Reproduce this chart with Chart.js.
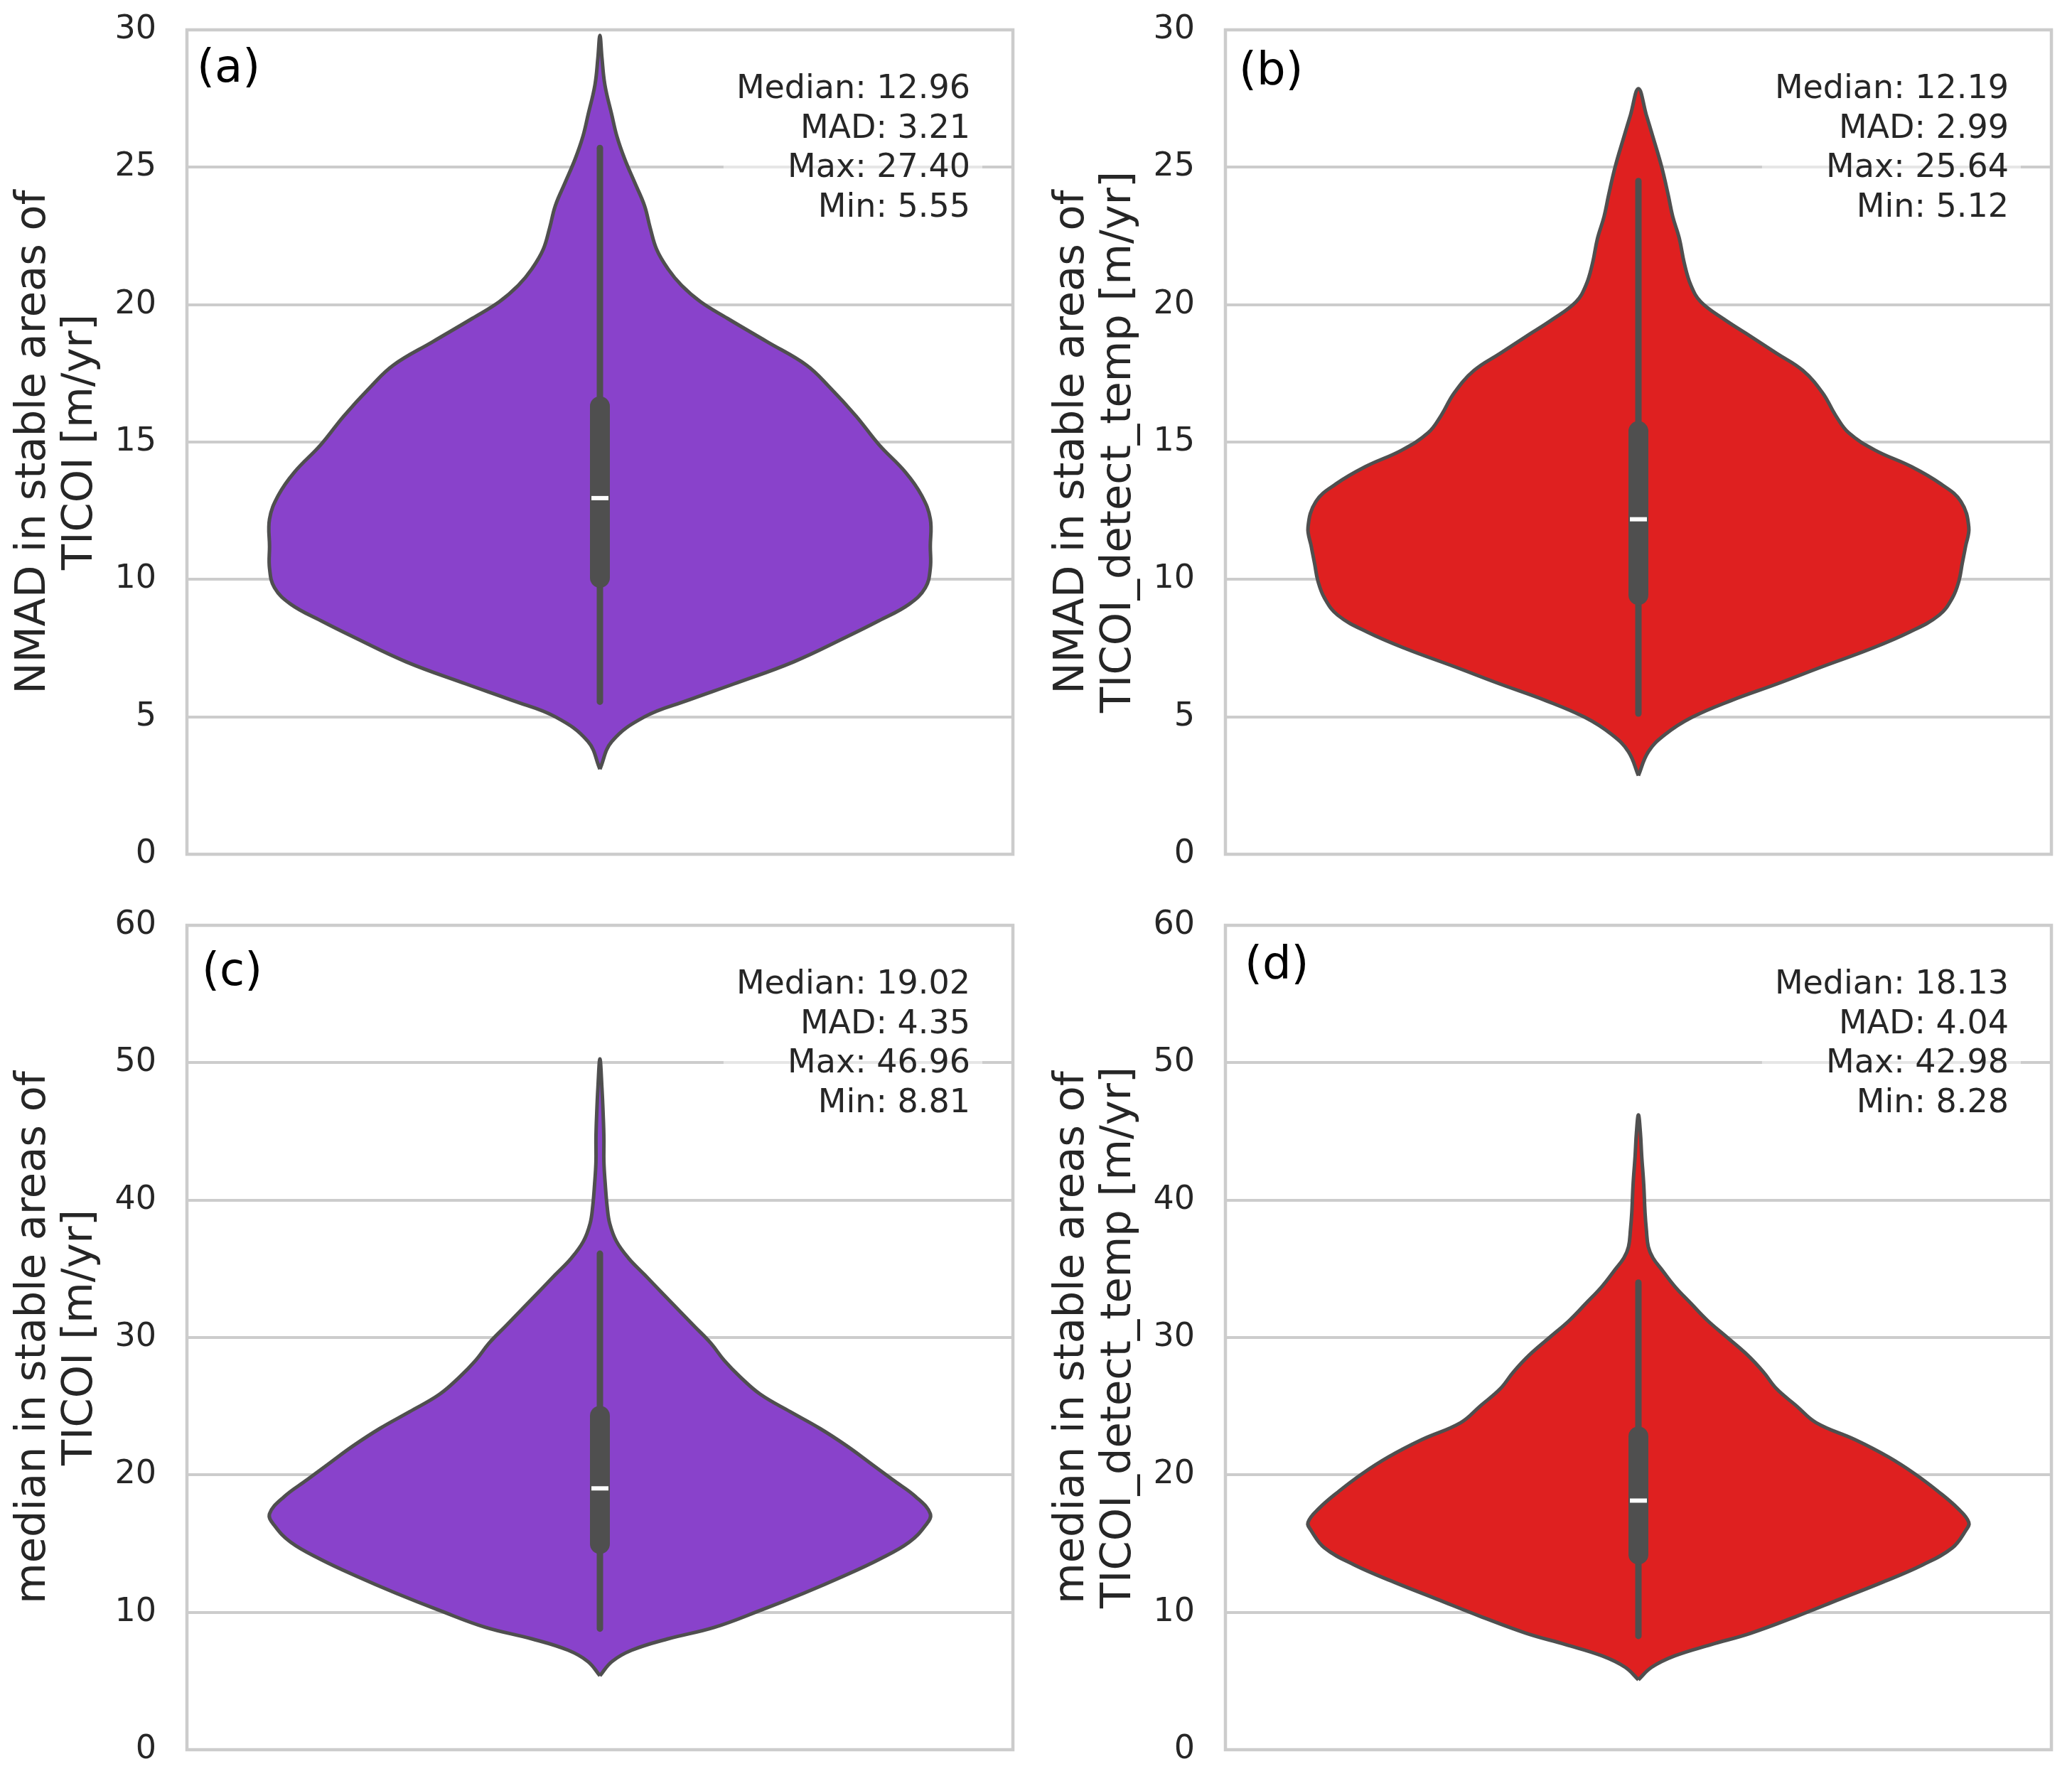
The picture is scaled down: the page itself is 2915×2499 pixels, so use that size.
<!DOCTYPE html>
<html>
<head>
<meta charset="utf-8">
<script src="https://cdn.jsdelivr.net/npm/chart.js@4.4.1/dist/chart.umd.min.js"></script>
<style>
  body { margin: 0; background: #fff; width: 2915px; height: 2499px; position: relative; overflow: hidden; }
  canvas { position: absolute; }
</style>
</head>
<body>
<canvas id="chartA" width="1454" height="1240" style="left:0px;top:0px"></canvas>
<canvas id="chartB" width="1454" height="1240" style="left:1461px;top:0px"></canvas>
<canvas id="chartC" width="1454" height="1240" style="left:0px;top:1260px"></canvas>
<canvas id="chartD" width="1454" height="1240" style="left:1461px;top:1260px"></canvas>
<script>
// violin outlines: value on the y axis and relative density (1 = widest)
const valsA = [3.1, 4.1, 5.0, 5.6, 6.2, 7.0, 7.9, 8.5, 9.1, 9.7, 10.4, 11.2, 12.2, 13.05, 13.9, 14.9, 15.95, 17.0, 17.8, 18.65, 19.5, 20.1, 20.7, 21.3, 22.0, 22.8, 23.6, 24.45, 25.3, 26.1, 26.9, 28.0, 29.0, 29.8];
const densA = [0, 0.036, 0.135, 0.266, 0.406, 0.586, 0.745, 0.845, 0.936, 0.985, 1.0, 1.0, 1.0, 0.974, 0.925, 0.845, 0.775, 0.695, 0.625, 0.506, 0.386, 0.305, 0.247, 0.206, 0.172, 0.152, 0.135, 0.105, 0.075, 0.052, 0.036, 0.015, 0.006, 0];

const valsB = [2.86, 3.73, 4.35, 4.97, 5.59, 6.2, 6.84, 7.46, 8.08, 8.7, 9.32, 9.94, 10.57, 11.19, 11.9, 12.84, 13.47, 14.1, 14.7, 15.33, 15.95, 16.78, 17.6, 18.23, 18.85, 19.47, 20.1, 20.7, 21.5, 22.4, 23.2, 24.0, 25.03, 26.1, 26.9, 27.86];
const densB = [0, 0.03, 0.08, 0.16, 0.28, 0.42, 0.56, 0.70, 0.82, 0.91, 0.95, 0.97, 0.98, 0.99, 1.0, 0.976, 0.916, 0.827, 0.717, 0.637, 0.598, 0.558, 0.498, 0.418, 0.339, 0.259, 0.189, 0.159, 0.139, 0.124, 0.104, 0.09, 0.07, 0.044, 0.024, 0];

const valsC = [5.38, 6.41, 7.24, 8.07, 8.9, 10.14, 11.38, 12.62, 13.86, 15.1, 16.34, 17.17, 18.41, 19.65, 20.9, 22.13, 23.38, 24.6, 25.86, 27.1, 28.34, 29.58, 30.82, 32.06, 33.3, 34.55, 35.79, 37.0, 38.27, 39.5, 41.2, 42.8, 44.5, 46.1, 48.2, 50.27];
const densC = [0, 0.036, 0.096, 0.206, 0.346, 0.486, 0.616, 0.736, 0.846, 0.936, 0.986, 1.0, 0.956, 0.886, 0.816, 0.746, 0.666, 0.576, 0.486, 0.426, 0.376, 0.336, 0.286, 0.236, 0.186, 0.136, 0.086, 0.05, 0.03, 0.022, 0.016, 0.012, 0.012, 0.010, 0.006, 0];

const valsD = [5.09, 6.0, 6.83, 7.65, 8.48, 9.72, 10.96, 12.2, 13.45, 14.69, 15.93, 16.55, 17.58, 18.82, 20.07, 21.3, 22.55, 23.8, 25.03, 26.27, 27.5, 28.75, 30.0, 31.24, 32.48, 33.72, 34.96, 35.79, 36.6, 37.86, 39.1, 41.17, 43.2, 44.9, 46.2];
const densD = [0, 0.04, 0.11, 0.22, 0.34, 0.48, 0.61, 0.74, 0.86, 0.95, 0.99, 1.0, 0.966, 0.906, 0.837, 0.757, 0.657, 0.538, 0.478, 0.418, 0.378, 0.329, 0.269, 0.209, 0.159, 0.11, 0.07, 0.044, 0.03, 0.024, 0.02, 0.016, 0.01, 0.006, 0];

// inner box: [whisker low, q1, median, q3, whisker high]
const boxA = [5.55, 10.06, 12.96, 16.3, 25.7];
const boxB = [5.12, 9.43, 12.19, 15.4, 24.5];
const boxC = [8.81, 14.97, 19.02, 24.3, 36.1];
const boxD = [8.28, 14.2, 18.13, 22.8, 34.0];

// printed statistics: median, MAD, max, min
const statsA = [12.96, 3.21, 27.40, 5.55];
const statsB = [12.19, 2.99, 25.64, 5.12];
const statsC = [19.02, 4.35, 46.96, 8.81];
const statsD = [18.13, 4.04, 42.98, 8.28];
const statNames = ['Median', 'MAD', 'Max', 'Min'];

const titleA = ['NMAD in stable areas of', 'TICOI [m/yr]'];
const titleB = ['NMAD in stable areas of', 'TICOI_detect_temp [m/yr]'];
const titleC = ['median in stable areas of', 'TICOI [m/yr]'];
const titleD = ['median in stable areas of', 'TICOI_detect_temp [m/yr]'];

const FONT = 'DejaVu Sans';
const halfWidth = 0.4;  // seaborn default width 0.8

function violinPoints(vals, dens) {
    const right = vals.map((v, i) => ({ x: dens[i] * halfWidth, y: v }));
    const left = vals.map((v, i) => ({ x: -dens[i] * halfWidth, y: v })).reverse();
    return right.concat(left.slice(1));
}

// spines, panel letter and the stats box
const panelDecor = {
    id: 'panelDecor',
    afterDraw(chart, args, opts) {
        const { ctx, chartArea: a } = chart;
        ctx.save();
        ctx.strokeStyle = '#cccccc';
        ctx.lineWidth = 4.5;
        ctx.strokeRect(a.left, a.top, a.right - a.left, a.bottom - a.top);

        ctx.font = `64px "${FONT}"`;
        ctx.fillStyle = '#000000';
        ctx.textAlign = 'left';
        ctx.textBaseline = 'alphabetic';
        ctx.fillText(opts.letter, a.left + opts.letterDx, a.top + opts.letterDy);

        const lines = opts.stats.map((v, i) => `${statNames[i]}: ${v.toFixed(2)}`);
        ctx.font = `46px "${FONT}"`;
        const maxW = Math.max(...lines.map(l => ctx.measureText(l).width));
        const xr = a.right - 60;
        const y0 = a.top + 96;
        const step = 55.5;
        ctx.fillStyle = 'rgba(255,255,255,0.5)';
        ctx.fillRect(xr - maxW - 18, y0 - 52, maxW + 35, step * 3 + 52 + 28);
        ctx.fillStyle = '#262626';
        ctx.textAlign = 'right';
        lines.forEach((l, i) => ctx.fillText(l, xr, y0 + i * step));
        ctx.restore();
    }
};

function makeViolin(id, vals, dens, box, stats, title, color, yMax, yStep, letter, letterDx, letterDy) {
    const ctx = document.getElementById(id).getContext('2d');
    // datasets are painted last-to-first, so the violin goes at the end (bottom layer)
    return new Chart(ctx, {
        type: 'scatter',
        data: {
            datasets: [
                {
                    data: [{ x: -0.0103, y: box[2] }, { x: 0.0103, y: box[2] }],
                    showLine: true,
                    borderColor: '#ffffff',
                    borderWidth: 6,
                    borderCapStyle: 'butt',
                    pointRadius: 0
                },
                {
                    data: [{ x: 0, y: box[1] }, { x: 0, y: box[3] }],
                    showLine: true,
                    borderColor: '#4f4f4f',
                    borderWidth: 28,
                    borderCapStyle: 'round',
                    pointRadius: 0
                },
                {
                    data: [{ x: 0, y: box[0] }, { x: 0, y: box[4] }],
                    showLine: true,
                    borderColor: '#4f4f4f',
                    borderWidth: 9,
                    borderCapStyle: 'round',
                    pointRadius: 0
                },
                {
                    data: violinPoints(vals, dens),
                    showLine: true,
                    fill: 'shape',
                    backgroundColor: color,
                    borderColor: '#4f4f4f',
                    borderWidth: 5,
                    borderJoinStyle: 'round',
                    tension: 0.4,
                    pointRadius: 0
                }
            ]
        },
        options: {
            responsive: false,
            devicePixelRatio: 1,
            animation: false,
            events: [],
            layout: { padding: { top: 42, right: 29, bottom: 38, left: 0 } },
            plugins: {
                legend: { display: false },
                tooltip: { enabled: false },
                panelDecor: { letter, letterDx, letterDy, stats }
            },
            scales: {
                x: { type: 'linear', min: -0.5, max: 0.5, display: false },
                y: {
                    min: 0,
                    max: yMax,
                    afterFit: scale => {
                        scale.width = 263;
                        scale.paddingTop = 0;
                        scale.paddingBottom = 0;
                    },
                    ticks: { stepSize: yStep, padding: 43, color: '#262626', font: { family: FONT, size: 46 } },
                    grid: { color: '#cccccc', lineWidth: 4, drawTicks: false },
                    border: { display: false },
                    title: {
                        display: true,
                        text: title,
                        color: '#262626',
                        font: { family: FONT, size: 59, lineHeight: 1.12 },
                        padding: { top: 14.5, bottom: 0 }
                    }
                }
            }
        },
        plugins: [panelDecor]
    });
}

makeViolin('chartA', valsA, densA, boxA, statsA, titleA, '#8942CB', 30, 5, '(a)', 14, 73);
makeViolin('chartB', valsB, densB, boxB, statsB, titleB, '#DF2020', 30, 5, '(b)', 19, 77);
makeViolin('chartC', valsC, densC, boxC, statsC, titleC, '#8942CB', 60, 10, '(c)', 21, 84);
makeViolin('chartD', valsD, densD, boxD, statsD, titleD, '#DF2020', 60, 10, '(d)', 27, 75);
</script>
</body>
</html>
